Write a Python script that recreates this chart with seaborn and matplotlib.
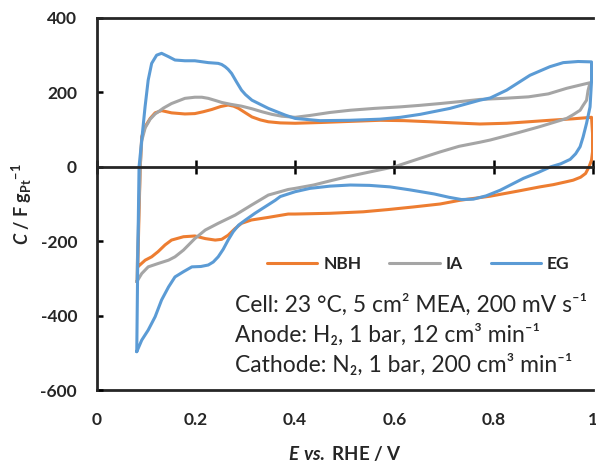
import numpy as np
import pandas as pd
import matplotlib
matplotlib.use("Agg")
import matplotlib.pyplot as plt
import seaborn as sns

# Cyclic voltammograms: potential (V vs. RHE) and capacitance (F g_Pt^-1)
# Each loop: anodic sweep from 0.08 V up to 1.0 V, cathodic sweep back down.
nbh_e = [0.083, 0.0855, 0.088, 0.091, 0.098, 0.108, 0.118, 0.131, 0.151, 0.178,
         0.198, 0.215, 0.232, 0.250, 0.265, 0.276, 0.286, 0.300, 0.313, 0.330, 0.346, 0.370,
         0.400, 0.450, 0.510, 0.571, 0.620, 0.672, 0.720, 0.772, 0.826, 0.870, 0.913, 0.960,
         0.997, 0.999, 0.999, 0.997, 0.992, 0.985, 0.975, 0.960, 0.947, 0.920, 0.893, 0.850,
         0.793, 0.732, 0.692, 0.638, 0.587, 0.537, 0.470, 0.400, 0.386, 0.346, 0.312, 0.292,
         0.279, 0.265, 0.252, 0.239, 0.219, 0.198, 0.175, 0.151, 0.138, 0.124, 0.111, 0.098,
         0.083]
nbh_c = [-269, -130, 0, 81, 108, 130, 145, 151, 145, 142,
         143, 148, 154, 162, 166, 163, 157, 145, 134, 126, 121, 118,
         117, 119, 122, 125, 124, 121, 118, 115, 117, 121, 125, 129,
         133, 90, 40, 18, 0, -18, -28, -36, -40, -48, -54, -65,
         -79, -90, -100, -108, -115, -121, -125, -127, -127, -136, -143, -152,
         -166, -184, -195, -197, -193, -186, -188, -197, -210, -228, -242, -251,
         -269]

ia_e = [0.081, 0.085, 0.088, 0.091, 0.098, 0.108, 0.118, 0.1245, 0.135, 0.151, 0.178, 0.198,
        0.212, 0.225, 0.240, 0.252, 0.270, 0.292, 0.313, 0.333, 0.353, 0.373, 0.400, 0.430,
        0.470, 0.511, 0.560, 0.611, 0.650, 0.692, 0.730, 0.772, 0.820, 0.870, 0.910, 0.947,
        0.975, 0.994, 0.990, 0.987, 0.980, 0.974, 0.960, 0.947, 0.920, 0.893, 0.850, 0.793,
        0.772, 0.730, 0.692, 0.650, 0.600, 0.550, 0.504, 0.470, 0.437, 0.400, 0.386, 0.346,
        0.312, 0.279, 0.245, 0.219, 0.198, 0.175, 0.158, 0.145, 0.124, 0.104, 0.091,
        0.081]
ia_c = [-309, -130, 0, 70, 105, 128, 142, 148, 158, 170, 184, 187,
        187, 184, 178, 173, 168, 163, 156, 148, 141, 136, 133, 138,
        146, 152, 157, 161, 165, 170, 175, 181, 184, 188, 196, 211,
        220, 226, 205, 179, 165, 152, 140, 130, 119, 108, 92, 72,
        66, 55, 40, 22, 0, -14, -27, -38, -49, -58, -61, -76,
        -103, -130, -152, -170, -193, -224, -242, -251, -260, -269, -287,
        -309]

eg_e = [0.081, 0.083, 0.0856, 0.091, 0.0977, 0.104, 0.111, 0.121, 0.131, 0.145, 0.158, 0.178,
        0.198, 0.225, 0.245, 0.252, 0.259, 0.265, 0.272, 0.282, 0.292, 0.300, 0.313, 0.346,
        0.380, 0.400, 0.450, 0.510, 0.571, 0.612,
        0.652, 0.712, 0.772, 0.793, 0.826, 0.873, 0.913, 0.940, 0.970, 0.997, 0.997, 0.994,
        0.987, 0.980, 0.974, 0.965, 0.954, 0.935, 0.915, 0.890, 0.860, 0.813, 0.785, 0.759,
        0.735, 0.710, 0.680, 0.631, 0.591, 0.550, 0.511, 0.470, 0.430, 0.400, 0.370, 0.360,
        0.319, 0.300, 0.286, 0.275, 0.265, 0.255, 0.245, 0.235, 0.225, 0.210, 0.192, 0.175,
        0.158, 0.145, 0.131, 0.118, 0.104, 0.091, 0.081]
eg_c = [-497, -250, 0, 72, 161, 233, 278, 300, 305, 296, 287, 285,
        285, 280, 278, 275, 269, 262, 251, 228, 206, 194, 179, 157,
        139, 130, 124, 125, 128, 133,
        141, 157, 179, 185, 206, 246, 269, 280, 283, 282, 230, 161,
        117, 80, 54, 35, 20, 8, 0, -15, -31, -63, -78, -87,
        -88, -82, -73, -62, -54, -50, -49, -52, -58, -67, -80, -90,
        -125, -143, -157, -175, -197, -222, -242, -256, -264, -268, -269, -282,
        -296, -323, -358, -403, -439, -466, -497]

series = ["NBH", "IA", "EG"]
palette = {"NBH": "#ED7D31", "IA": "#A5A5A5", "EG": "#5B9BD5"}

x_ticks = [0, 0.2, 0.4, 0.6, 0.8, 1.0]
x_tick_labels = ["0", "0.2", "0.4", "0.6", "0.8", "1"]
y_ticks = [-600, -400, -200, 0, 200, 400]

frames = []
for name, e, c in [("NBH", nbh_e, nbh_c), ("IA", ia_e, ia_c), ("EG", eg_e, eg_c)]:
    frames.append(pd.DataFrame({"E": e, "C": c, "sample": name,
                                "step": np.arange(len(e))}))
df = pd.concat(frames, ignore_index=True)

sns.set_style("white")
plt.rcParams["font.family"] = ["Lato", "DejaVu Sans"]
plt.rcParams["axes.unicode_minus"] = False
plt.rcParams["mathtext.fontset"] = "custom"
plt.rcParams["mathtext.rm"] = "Lato:bold"
plt.rcParams["mathtext.bf"] = "Lato:bold"
plt.rcParams["mathtext.it"] = "Lato:bold:italic"

fig = plt.figure(figsize=(5.96, 4.61), dpi=100)
ax = fig.add_axes([0.162, 0.154, 0.833, 0.807])

sns.lineplot(data=df, x="E", y="C", hue="sample", hue_order=series, palette=palette,
             sort=False, estimator=None, units="sample", linewidth=2.2,
             solid_joinstyle="round", solid_capstyle="round", ax=ax)

ax.set_xlim(0, 1)
ax.set_ylim(-600, 400)

# horizontal axis drawn through zero, with crossing ticks
ax.spines["bottom"].set_position(("data", 0))
ax.spines["bottom"].set_linewidth(2.0)
ax.spines["left"].set_linewidth(2.0)
ax.spines["top"].set_linewidth(2.0)
ax.spines["right"].set_visible(False)
ax.set_xticks(x_ticks)
ax.tick_params(axis="x", bottom=True, direction="inout", length=9.5, width=1.8,
               labelbottom=False, color="black")
ax.set_yticks(y_ticks)
ax.tick_params(axis="y", left=True, direction="in", length=4, width=1.8, pad=14,
               labelsize=12.5, color="black")
for lbl in ax.get_yticklabels():
    lbl.set_fontweight("bold")
ax.set_xlabel("")
ax.set_ylabel(r"$C$ / F g$_{\mathrm{Pt}}$$^{\mathrm{-1}}$", fontsize=13,
              fontweight="bold", labelpad=5)

# tick labels and frame line along the lower edge
sec = ax.secondary_xaxis("bottom")
sec.set_xticks(x_ticks, x_tick_labels)
sec.tick_params(length=0, pad=16, labelsize=12.5)
for lbl in sec.get_xticklabels():
    lbl.set_fontweight("bold")
sec.spines["bottom"].set_linewidth(2.0)
sec.set_xlabel(r"$E\ vs.$ RHE / V", fontsize=13.5, fontweight="bold", labelpad=11)

handles, labels = ax.get_legend_handles_labels()
ax.legend(handles, labels, loc="center", bbox_to_anchor=(0.648, 0.339), ncol=3,
          frameon=False, handlelength=2.9, columnspacing=1.6, handletextpad=0.35,
          prop={"weight": "bold", "size": 12.5})

notes = ["Cell: 23 °C, 5 cm² MEA, 200 mV s⁻¹",
         "Anode: H₂, 1 bar, 12 cm³ min⁻¹",
         "Cathode: N₂, 1 bar, 200 cm³ min⁻¹"]
for i, t in enumerate(notes):
    ax.text(0.279, 0.228 - 0.0805 * i, t, transform=ax.transAxes, ha="left",
            va="center", fontsize=16.5, family=["Lato", "DejaVu Sans"])

fig.savefig("out.png", dpi=100)
